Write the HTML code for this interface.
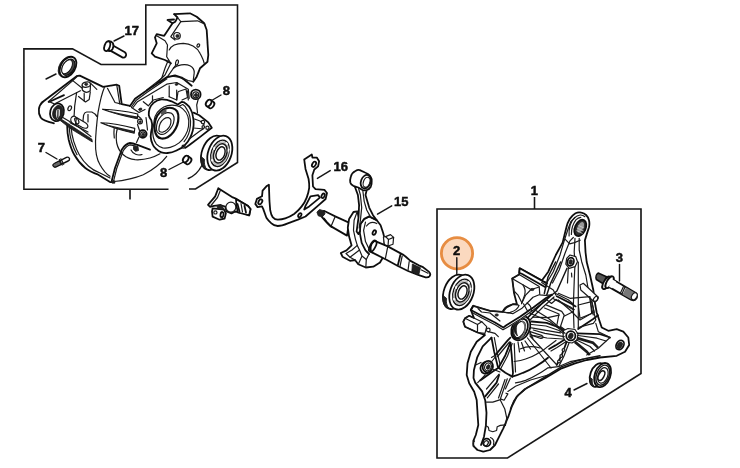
<!DOCTYPE html>
<html><head><meta charset="utf-8"><title>Parts diagram</title>
<style>
html,body{margin:0;padding:0;background:#fff;}
svg{display:block;}
text{font-family:"Liberation Sans",sans-serif;font-weight:bold;font-size:13px;fill:#0a0a0a;stroke:#0a0a0a;stroke-width:0.45;}
.l{fill:none;stroke:#1a1a1a;stroke-width:1.2;stroke-linecap:round;stroke-linejoin:round;}
.t{fill:none;stroke:#111;stroke-width:1.8;stroke-linecap:round;stroke-linejoin:round;}
.h{fill:none;stroke:#444;stroke-width:0.7;stroke-linecap:round;stroke-linejoin:round;}
.m{fill:none;stroke:#141414;stroke-width:1.45;stroke-linecap:round;stroke-linejoin:round;}
.w{fill:#fff;stroke:#1a1a1a;stroke-width:1.2;stroke-linejoin:round;}
.wt{fill:#fff;stroke:#111;stroke-width:1.8;stroke-linejoin:round;}
.d{fill:#222;stroke:#1a1a1a;stroke-width:0.8;stroke-linejoin:round;}
.g{fill:#999;stroke:none;}
.b{fill:none;stroke:#151515;stroke-width:1.6;}
.ld{fill:none;stroke:#151515;stroke-width:1.4;stroke-linecap:round;}
</style></head><body>
<svg width="740" height="468" viewBox="0 0 740 468">
<defs><filter id="bl" x="0" y="0" width="740" height="468" filterUnits="userSpaceOnUse"><feGaussianBlur stdDeviation="0.45"/></filter></defs>
<rect width="740" height="468" fill="#fff"/>
<g filter="url(#bl)">
<!-- BOXES -->
<g class="b" id="boxes">
<path d="M168.5,189.2 H23.9 V48.9 H72.5 L101,64.5 H145.8 V5 H237.5 V162.5 L195.5,189 H189"/>
<path d="M130,189 V199.5"/>
<path d="M437,209 H641 V373.5 L507.5,458 H437 Z"/>
<path d="M534.5,197 V209"/>
</g>
<!-- HIGHLIGHT -->
<circle cx="457" cy="253.3" r="15.6" fill="#fbd9bf" stroke="#e78d42" stroke-width="2.8"/>
<!-- LEADERS -->
<g class="ld" id="leaders">
<path d="M124,36 L114,41"/>
<path d="M46,79 L56,74"/>
<path d="M46,152.5 L57,159"/>
<path d="M221,95 L212.5,100"/>
<path d="M169,169.5 L182.5,162.5"/>
<path d="M188.3,178.5 Q197,175 201.7,165.8"/>
<path d="M330.2,170.6 L317.4,178.4"/>
<path d="M391.7,205.8 L377.5,214.2"/>
<path d="M456.8,257.8 V274.5"/>
<path d="M619.5,264.5 V281"/>
<path d="M574,390 L587,383.5"/>
</g>
<!-- LABELS -->
<g id="labels">
<text x="124.5" y="35">17</text>
<text x="222.8" y="95">8</text>
<text x="160" y="176.5">8</text>
<text x="37.8" y="151.5">7</text>
<text x="333.5" y="171">16</text>
<text x="394" y="206">15</text>
<text x="530.7" y="194.5">1</text>
<text x="453" y="255.3">2</text>
<text x="615.8" y="262">3</text>
<text x="564.6" y="397">4</text>
</g>
<!-- LEFT CRANKCASE -->
<g id="leftcase">
<!-- top shroud -->
<path class="t" d="M174.2,14.2 L190,13.3 L196.7,16.7 L204.2,23.3 L206.7,30 L208.3,55 L207.5,61.7 L200,68.3 L196.7,76.7 L193.3,81.7"/>
<path class="t" d="M174.2,14.2 L177.5,17.5 L175.3,21.7 L172.5,23.3 L167.5,20 L174,19.5"/>
<path class="t" d="M172.5,23.3 L164.2,35.8 L156.7,34.2 L155,37.5 L156.7,43.3 L151.7,53.3 L155,56.7 L165,60 L170.8,63.3"/>
<path class="l" d="M177.5,17.5 L180.8,21.7 L197.5,20.8 L205,24.2"/>
<path class="l" d="M180.8,21.7 L170.8,36.7 L175,40"/>
<circle class="w" cx="177" cy="35.8" r="3.3"/>
<circle class="d" cx="177.5" cy="36" r="1.6"/>
<path class="l" d="M156.7,35.8 L165,40.8 L167.5,45 L166.7,56.7 L170.8,63.3"/>
<path class="l" d="M169.2,50 C171,46 176,43.3 183.3,43.3 C190,43.5 197,47 200,53.3 C202,57 203.5,60 204.2,63.3"/>
<ellipse class="l" cx="198.3" cy="45.5" rx="1.2" ry="1.8" transform="rotate(30 198.3 45.5)"/>
<ellipse class="l" cx="177" cy="62.5" rx="1.3" ry="2.6" transform="rotate(15 177 62.5)"/>
<path class="l" d="M170.8,63.3 L165,75 L156.7,83"/>
<path class="l" d="M175.8,65 L167.5,76.7 L160,83"/>
<path class="l" d="M168.3,60 L165,68.3 L161.7,78.3 L146.7,90"/>
<path class="l" d="M173.3,68.3 C177,65 185,63.5 190,65.8 C193,67.5 194.5,70 194.2,73 L193.3,80"/>
<path class="l" d="M165,78.3 C170,75.5 178,76 183,79"/>
<!-- flange outer edge -->
<path class="t" d="M130,106 L135,98.8 L146.7,90.5 L166.7,77.2 L175,75.3 L181.7,77.5 L191.7,85.8"/>
<path class="l" d="M131.5,107 L136.3,100.2 L147.5,92 L167,78.8"/>
<path class="l" d="M181.7,77.5 L188,80.5 L193.3,81.7"/>
<!-- flange inner -->
<path class="l" d="M133,107.5 L137.5,101.7 L150,94.2 L166.7,84.2 L176.7,82.5 L188.3,89.2 L189.2,98.3"/>
<ellipse class="d" cx="176.7" cy="84.2" rx="1.6" ry="1" transform="rotate(-20 176.7 84.2)"/>
<ellipse class="d" cx="140.3" cy="109.3" rx="1.7" ry="1.1" transform="rotate(-20 140.3 109.3)"/>
<path class="l" d="M131.5,107.5 L139,112.5 L145,109.5"/>
<path class="l" d="M143.3,101.7 L148.3,105.8 L153.3,100 L163.3,97.5"/>
<path class="l" d="M152.5,95.8 L152.5,102"/>
<path class="l" d="M169.2,85.8 L169.2,96.7 M176.7,90 L176.7,100 M187.5,90.8 L188.3,100"/>
<path class="l" d="M169.2,96.7 L176.7,100 L178,92"/>
<path class="l" d="M178.5,91.5 L186,89 L187.5,97.5 L182,100"/>
<!-- bolt boss right -->
<circle class="wt" cx="195.8" cy="94.4" r="4.8"/>
<circle class="l" cx="195.8" cy="94.8" r="3"/>
<circle class="d" cx="196" cy="95" r="1.6"/>
<!-- main ring -->
<path class="wt" d="M149.5,108.9 C150.5,106.5 152,104 153.9,102.6 C156,100.8 158.5,99.8 161.4,99.4 C165,99.3 168.5,100 171.5,101.3 L177.8,104.5 L181.6,101.9 C183.3,101.8 184.8,102.5 186,103.8 C188,105.3 189.5,107 190.4,108.9 C191.8,111.3 192.6,113.8 192.9,116.4 C193.6,119.3 193.8,122.2 193.6,125.2 C193.4,128.3 192.8,131.3 191.7,134.1 C190.8,136.8 189.5,139.3 187.9,141.6 C186.2,144 184,146.2 181.6,147.9 L176.5,150.5 C173.5,152 170.5,152.8 167.7,153 C165.5,153.2 163.4,153 161.4,152.3 C159.5,151.6 157.8,150.6 156.4,149.2 C154.6,147.8 153.3,146.2 152.6,144.2 C151.5,141.8 150.8,139.3 150.7,136.6 C150.8,133.7 151.3,130.7 152,127.8 C152.3,125.2 152.2,122.7 151.3,120.2 C150,118.5 149,117 148.8,115.2 C148.6,113 148.9,111 149.5,108.9 Z"/>
<path class="l" d="M153.9,124 C153.9,121.3 154.3,118.8 155.1,116.4 C156.2,113.6 157.9,111.3 160.2,109.5 C162.4,107.6 164.9,106.3 167.7,105.7 C170.7,105 173.6,105 176.5,105.7 C179,106.2 181.1,107.3 182.8,108.9 C185.2,110.9 186.9,113.4 187.9,116.4 C189,119.7 189.2,123.1 188.5,126.5 C188,129.7 187,132.6 185.4,135.3 C183.8,138.3 181.7,140.8 179.1,142.9 C176.5,145 173.5,146.5 170.2,147.3 C167.7,148 165.2,148.2 162.7,147.9 C160.2,147.3 158.1,146.1 156.4,144.2 C154.7,142 153.7,139.5 153.2,136.6 C152.8,134.1 152.6,131.6 152.6,129 Z"/>
<path class="l" d="M179.1,106.3 L182.8,104.5 C184.5,105.5 185.8,107 186.6,108.9 C188.2,111.2 189.2,113.7 189.8,116.4 C190.5,119.3 190.7,122.2 190.4,125.2 C190.2,128.3 189.6,131.3 188.5,134.1 C187.5,136.9 186,139.4 184.1,141.6"/>
<path d="M154.5,126.5 C154.5,123.8 155,121.3 155.8,118.9 C156.8,116.2 158.2,113.9 160.2,112 C162,110.2 164.1,108.9 166.5,108.2 C168.6,107.6 170.7,107.6 172.8,108.2 C174.8,108.8 176.2,109.9 177.2,111.4 C178.2,113.3 178.6,115.4 178.4,117.7 C178.4,120.3 178,122.8 177.2,125.2 C176.3,127.8 175,130.1 173.4,132.2 C171.8,134.3 169.9,136 167.7,137.2 C165.7,138.3 163.6,138.7 161.4,138.5 C159.6,138.2 158.1,137.4 157,136 C155.9,134.5 155.2,132.8 154.9,130.9 C154.6,129.4 154.5,128 154.5,126.5 Z" fill="#fff" stroke="#111" stroke-width="2.2"/>
<path class="l" d="M156.4,127.8 C156.5,125.6 156.9,123.5 157.6,121.5 C158.5,119.3 159.8,117.4 161.4,115.8 C163,114.2 164.9,113.1 167.1,112.6 C168.7,112.4 170.2,112.6 171.5,113.3 C172.8,114.2 173.6,115.5 174,117.1 C174.3,119.2 174.1,121.3 173.4,123.4 C172.7,125.5 171.6,127.3 170.2,129 C168.8,130.8 167.1,132.3 165.2,133.4 C163.6,134.3 161.9,134.6 160.2,134.1 C158.8,133.6 157.7,132.7 157,131.5 C156.5,130.3 156.3,129.1 156.4,127.8 Z"/>
<path class="l" d="M158.9,129 C159,126.8 159.5,124.9 160.2,123.4 C161.2,121.5 162.5,120 163.9,118.9 C165.4,117.9 166.9,117.6 168.4,117.7 C169.8,118 170.6,118.9 170.9,120.2 C171.1,121.9 170.8,123.6 170.2,125.2 C169.4,127 168.4,128.5 167.1,129.7 C165.8,131 164.3,131.9 162.7,132.2 C161.3,132.4 160.2,131.9 159.5,131.5 C159,130.8 158.8,130 158.9,129 Z"/>
<path d="M160.6,112.6 C162.2,110.8 164.2,109.6 166.3,109 L166.6,112.6 C165,113.2 163.4,114.6 162,116.2 Z" fill="#555"/>
<circle class="l" cx="183.5" cy="146.7" r="1.5"/>
<!-- right of ring -->
<path class="l" d="M198.3,98.8 L196.7,105 L197.5,113"/>
<path class="t" d="M193.6,112.6 L199.2,115.2 L208,122.1 L211.8,127.8 L200.5,136.6 L190.4,144.2 L185.4,147.9"/>
<path class="l" d="M189.2,139.1 L199.2,131.5 L203,129"/>
<path class="l" d="M194.5,119 L200,121 L204,124.5 M193.5,128 L199,128.5 L203,129"/>
<circle class="w" cx="203" cy="122.1" r="1.7"/>
<circle class="w" cx="207.4" cy="127.8" r="1.6"/>
<circle class="l" cx="203.3" cy="127" r="1.3"/>
<!-- arm (left) -->
<path class="t" d="M42.6,102 L77.3,75.8 L79.8,75.6 L103.1,86.9 L116.7,84.7 L119.2,85.8 L121.7,104.2 L130,105.8"/>
<path class="l" d="M48.3,101.8 L72.8,80.6 L82.3,88.2"/>
<path class="l" d="M72.8,80.6 L77.3,76.2"/>
<path class="l" d="M55.8,103.3 L80.4,90.7"/>
<path class="t" d="M48.9,102 L64,95.1"/>
<path class="t" d="M42.6,102 C38.5,105.5 37.5,112.5 40.7,117.6 C43,121 48.9,122.2 53.9,123.3"/>
<path class="l" d="M48.9,101.4 L57.1,105.2"/>
<ellipse class="wt" cx="57" cy="112.3" rx="6.8" ry="9" transform="rotate(15 57 112.3)"/>
<ellipse class="d" cx="57.8" cy="112.6" rx="5" ry="7.4" transform="rotate(15 57.8 112.6)"/>
<path d="M56.3,110.5 C57.3,108.8 59.3,108.6 60,110 L59.8,115.5 L57.6,118.8 C55.8,117.5 55.5,113 56.3,110.5 Z" fill="#ddd"/>
<path class="l" d="M58,109.8 L57.8,117.5"/>
<!-- boss on arm -->
<path class="w" d="M82.3,85.2 L82.3,90 Q86,94.3 90.2,90.7 L90.5,84.8 Z"/>
<ellipse class="w" cx="86.3" cy="84.6" rx="4.2" ry="2.6" transform="rotate(-10 86.3 84.6)"/>
<ellipse class="d" cx="86.2" cy="84.3" rx="1.6" ry="1.1"/>
<path class="l" d="M90.5,83.1 L96.8,89.4"/>
<path class="l" d="M76.6,92.6 L74.7,105.8 L74.1,116"/>
<path class="l" d="M78.5,96.5 L85.5,102 L89.2,99.5 L90.3,91.9"/>
<path class="l" d="M84.2,93.5 L84.2,101"/>
<ellipse class="l" cx="69.7" cy="108.3" rx="1.6" ry="2.5" transform="rotate(25 69.7 108.3)"/>
<!-- fin -->
<path class="l" d="M107.5,88.3 L115,102.5 L121.7,104.2"/>
<path class="l" d="M116.7,84.7 L119.8,104"/>
<!-- big curve -->
<path class="l" d="M104.4,87.5 C101.5,94 99.5,104 98,112.6 C97,121 95.8,132 95.5,141.6 C95.3,151 97,160 100,164.7 C103,170 106,174 110,176.3"/>
<!-- slats right -->
<path d="M102.5,109.3 C112,109.6 126,111.3 137.8,114 L137.3,118.8 C126,116.5 112,112.8 102.5,109.3 Z" fill="#fff" stroke="#111" stroke-width="1.1" stroke-linejoin="round"/>
<path d="M102.5,109.3 C112,112.8 126,116.5 137.3,118.8 L137.6,116.6 C126,114.6 113,112 102.5,109.3 Z" fill="#222"/>
<path d="M100.8,122.8 C110,123.2 123,125.2 134.8,128.4 L134.2,133.3 C124,131 110,126.8 100.8,122.8 Z" fill="#fff" stroke="#111" stroke-width="1.1" stroke-linejoin="round"/>
<path d="M100.8,122.8 C110,126.8 124,131 134.2,133.3 L134.5,131 C123,128.6 111,125.8 100.8,122.8 Z" fill="#222"/>
<!-- arch + boss lower -->
<path class="l" d="M82.9,121.4 L83.6,115.1 C84.3,113 85.5,112.2 86.7,112 L91.8,112 C94,113 95.8,114.5 96.8,116.4"/>
<path class="l" d="M88,114.5 L88,122"/>
<ellipse class="w" cx="74.3" cy="120.3" rx="3.4" ry="4.2" transform="rotate(-20 74.3 120.3)"/>
<path class="w" d="M76.5,117.5 L85,122.5 C87.5,124 88.5,126 87.5,127.5 C86,128.8 84,128.3 82,127.3 L75.5,123.8 Z"/>
<ellipse class="l" cx="76.8" cy="120.8" rx="1.7" ry="3.2" transform="rotate(-25 76.8 120.8)"/>
<!-- long blade from cylinder -->
<path class="d" d="M59.5,118 L70.3,125 L92,139.3 L92.3,142 L70,128.3 L59,119.5 Z"/>
<path class="l" d="M62,117 L78,126.5 L91,136.5"/>
<path class="l" d="M70,122.8 L88,132"/>
<!-- housing lower left curves -->
<path class="t" d="M67.2,126.5 C67.2,131 67.7,135 68.7,139.7 C70,145 71.6,150 74.3,154.7 C77.3,160 81,164.5 85.3,168 C89,171 93.5,173 98.3,174.7 L110,182 L114.2,182.2"/>
<path class="l" d="M71.2,128 C71.5,133 72.4,137 73.7,141.3 C75.2,146 76.9,150.5 79.3,154.7 C81.8,159 85,163 88.6,166.3 C92,169.5 96,171.5 100,173 L110,178"/>
<path class="l" d="M69.2,127.2 C69.5,132.5 70.2,137 71.5,141.5 C73,146.5 74.6,150.5 77,154.7"/>
<path class="t" d="M111.7,181 L115,168 L121.7,149.7 C124,146 127,143.5 130,143 C132.5,143 134.5,143.8 136.7,144.7 L150,149.7"/>
<path class="l" d="M113.5,181.3 L116.7,168.5 L123.2,150.8 C125.3,147.5 127.5,145.3 130.2,144.8 L136,146.2"/>
<path class="l" d="M114.2,181.5 C120,181 125,180 130,178.8 C135,177.7 139.5,176.3 143.3,174.7 C148,172.5 152.5,169.7 156.7,166.3 C160.5,163.3 164,160 166.7,156.3"/>
<rect class="d" x="112.2" y="180.8" width="2.6" height="2.4"/>
<!-- circle arcs at lower middle -->
<path class="l" d="M117.5,128 C116,133 116,138.5 116.7,143 C117.8,148 120,152 123.3,154.7 C126.5,157.5 130.5,159.3 135,159.7 C140,160 145,159.5 150,158 C153.5,157 157,155.5 160,153.8"/>
<path class="l" d="M114.2,128.3 C113.8,131.5 113.8,135 114.3,138"/>
<path class="d" d="M133.5,146.5 L138,146.5 L138.5,150.5 L135.5,151.3 L133.5,149.5 Z"/>
<path class="l" d="M131,150 C133,154 137.5,156 142,154.5"/>
<!-- small bosses near slats right end -->
<circle class="w" cx="140" cy="121.5" r="2.4"/>
<circle class="d" cx="140.2" cy="121.7" r="1"/>
<circle class="wt" cx="142.8" cy="134" r="3.8"/>
<circle class="l" cx="143" cy="134.2" r="2.3"/>
<circle class="d" cx="143.2" cy="134.4" r="1.2"/>
<path class="l" d="M138,116 L141,118.5 M137.5,124.5 L139.5,130.5 M146,117.5 L147.5,130"/>
<path class="l" d="M139,137 L136.5,142.5"/>
</g>
<!-- SMALL PARTS LEFT BOX -->
<g id="small-left">
<!-- screw 17 -->
<path class="wt" d="M112.1,45 L124.9,52.2 C126.3,53.3 126.5,55.3 125.5,56.6 C124.6,57.7 123.4,57.9 122.4,57.4 L109.5,50.1 Z"/>
<path class="wt" d="M108.3,41.2 C110,41 111.8,41.8 112.8,43 C113.7,44.8 113.5,47.3 112.5,49.2 C111.6,50.5 110.2,51.2 108.8,51 Z"/>
<ellipse class="wt" cx="107.2" cy="46.2" rx="2.7" ry="5" transform="rotate(18 107.2 46.2)"/>
<!-- seal -->
<g transform="translate(68,67) rotate(31)">
<ellipse class="d" cx="-1.1" cy="0.5" rx="7.4" ry="11.3"/>
<ellipse class="wt" cx="0" cy="0" rx="7.2" ry="11.1"/>
<ellipse cx="0.5" cy="0" rx="5.6" ry="8.8" fill="#444" stroke="#111" stroke-width="1.3"/>
<ellipse cx="-0.9" cy="0.3" rx="4.3" ry="7.7" fill="#fff" stroke="#111" stroke-width="1"/>
</g>
<!-- pin 7 -->
<path d="M54.3,163.6 L66.5,157.4 C67.8,156.8 69.2,157.4 69.5,158.6 C69.7,159.7 69.1,160.6 68.1,161 L56,166.8 C54.7,167.3 53.4,166.8 53.1,165.6 C52.9,164.8 53.4,164 54.3,163.6 Z" fill="#fff" stroke="#111" stroke-width="1.4" stroke-linejoin="round"/>
<path d="M54.3,163.6 L59.3,161 L61.2,164.3 L56,166.8 C54.7,167.3 53.4,166.8 53.1,165.6 C52.9,164.8 53.4,164 54.3,163.6 Z" fill="#666" stroke="#111" stroke-width="1"/>
<path class="l" d="M59.4,159.6 L62.2,165 M60.9,158.9 L63.7,164.3"/>
<!-- cylinder 8 upper -->
<g transform="translate(209.8,103.8) rotate(35)">
<path class="wt" d="M-1.4,-3.6 L2,-3.6 A2.4,3.6 0 0 1 2,3.6 L-1.4,3.6 Z"/>
<ellipse class="wt" cx="-1.4" cy="0" rx="2.4" ry="3.6"/>
</g>
<!-- cylinder 8 lower -->
<g transform="translate(186.9,159.8) rotate(35)">
<path class="wt" d="M-1.4,-3.6 L2,-3.6 A2.4,3.6 0 0 1 2,3.6 L-1.4,3.6 Z"/>
<ellipse class="wt" cx="-1.4" cy="0" rx="2.4" ry="3.6"/>
</g>
<!-- bearing left -->
<g transform="translate(219.8,153.2) rotate(20)">
<ellipse class="wt" cx="-6.2" cy="1.9" rx="11.4" ry="17.9"/>
<path class="d" d="M-16.6,9.5 C-15.8,13.5 -13.8,17 -10.8,19.2 L-6.5,19.8 C-9.6,17.8 -11.5,14.8 -12.3,11 Z"/>
<ellipse class="wt" cx="0" cy="0" rx="11.6" ry="18.1"/>
<ellipse class="m" cx="0.2" cy="0" rx="8.6" ry="13.6"/>
<ellipse cx="0.4" cy="0" rx="7.5" ry="11.8" fill="none" stroke="#bbb" stroke-width="1.6"/>
<ellipse class="m" cx="0.5" cy="0" rx="6.3" ry="10"/>
<ellipse class="m" cx="0.8" cy="0" rx="4.2" ry="6.9"/>
<path d="M-7.2,-4 L-6.8,-1 M6.9,-7.5 L7.5,-4.5 M-5.4,8.3 L-4.4,10.3 M2.2,-12.2 L4.3,-10.9" stroke="#fff" stroke-width="1.7" fill="none"/>
</g>
</g>
<!-- MIDDLE PARTS -->
<g id="clip">
<path class="wt" d="M218.3,188.2 L232.8,197.4 L235.3,198.3 L247.9,205.9 L250.5,209 L249.2,215.3 L244.1,213.4 L235.3,211.5 L231.5,213.4 L226.5,211.5 L225.2,206.5 L220.2,205.2 L213.9,205.9 L210.1,206.8 L208,204.9 L215.2,196.4 Z"/>
<path class="l" d="M220.5,190 L217.5,197.5 L211,205.5"/>
<circle class="w" cx="230.9" cy="207.1" r="5"/>
<path class="wt" d="M236,199 L247.9,205.9 L250.5,209 L249.2,215.3 L238,212.5 C236.5,208 236,203 236,199 Z"/>
<path class="t" d="M237.5,204 L239.5,211.5 M244.5,206 L246,212.5"/>
<path class="l" d="M241,203.5 L242.5,212"/>
<path class="wt" d="M212.6,208.4 L224,209.7 L225.9,213.4 L224.6,218.5 L219.6,219.7 L212.6,216.6 L212,211.5 Z"/>
<circle class="l" cx="215.4" cy="212.4" r="1.6"/>
<ellipse class="t" cx="222" cy="214.6" rx="1.5" ry="2.6" transform="rotate(10 222 214.6)"/>
<path class="d" d="M217,205.5 L221,204.5 L224,209 L217.5,208.5 Z"/>
</g>
<g id="gasket">
<path class="wt" d="M304.2,159.5 L311.8,154.4 L312.4,157.6 L316.8,157.6 L319.1,161.3 L318.1,166.4 L314.3,169.5 L312.4,175.2 L313,186.5 L315.5,189.1 L324.4,189.9 L327,193 L325.6,199 L318.1,205.7 L305.5,216.5 L297.9,219.7 L287.8,223.4 C284,225 280,226 277.7,226 C275,225.8 273,225 271.4,223.4 C269.2,221.5 267.5,219.5 266.4,217.8 L263.2,208.9 L262,206.4 L257.6,207.1 L255.3,203.9 L256.9,198.9 L262,196.3 L262.6,190.7 L266.4,186.3 L268.9,184.7 L269.4,200 L270.2,210.2 C270.7,213 271.5,215.5 272.7,217.1 C274,218.7 275.5,219.6 277.7,219.7 C280.5,219.6 283,219.2 285.3,218.4 C288.5,217.3 291.5,215.8 294.1,214 C297,211.8 299.5,209.3 301.7,206.4 C303.8,203.7 305.5,200.8 306.7,197.6 C308,194 308.9,190.5 309.2,187.8 C309.3,185 309.1,182 308.6,179 L305.5,168.9 Z"/>
<ellipse class="t" cx="314" cy="164.3" rx="1.7" ry="2.9" transform="rotate(30 314 164.3)"/>
<ellipse class="t" cx="323.1" cy="195.8" rx="1.4" ry="2.4" transform="rotate(25 323.1 195.8)"/>
<ellipse class="t" cx="299.8" cy="215.2" rx="1.4" ry="2.2" transform="rotate(30 299.8 215.2)"/>
<ellipse class="t" cx="260.3" cy="201.8" rx="1.7" ry="2.7" transform="rotate(30 260.3 201.8)"/>
<path class="wt" d="M310.5,196.3 L318.1,195.1 L319.9,197.6 L309.2,206.4 L304.2,209.6 L305.5,205.8 Z"/>
</g>
<g id="crank">
<!-- left shaft -->
<path class="wt" d="M323.9,210.8 L335.2,216.4 L349,222.6 L347,235.6 L330.2,225.9 L326.4,222.1 L322,217.1 Z"/>
<path class="d" d="M316.9,212 L319.5,209.5 L323.9,210.8 L325.1,213.9 L322,217.1 L318.2,215.8 Z"/>
<path class="l" d="M335.2,216.4 L331,226.5"/>
<path class="t" d="M324,218.5 L327.5,223 L331.5,226.8"/>
<!-- webs -->
<path class="wt" d="M353.5,212 L349.1,218.9 L347.8,227.8 L349.1,236.6 L351.6,245.4 L346.5,250.4 L340.8,253 L342.5,256.7 L350,260.8 L355,260 L358.3,264.2 L365.8,267.5 L373.3,266.7 L380,262.5 L383.3,256.7 L384.4,246 L384.4,237.8 L383.1,232.8 L380.6,225.2 L376.8,220.2 L369.2,216.4 L364.2,218.9 L360.4,224 L357.3,211.4 Z"/>
<path class="l" d="M357.3,211.4 L354.1,220.2 L353.5,230.3 L355.4,239.1 L357.3,245.4 L352,250 L346,253.5 L350,257.2 L355,260"/>
<path class="l" d="M357.3,245.4 L359.5,250 L350,257.2"/>
<path class="t" d="M360.4,224 L359.8,232.8 L361.7,242.9 L365.5,250.4 L369,254"/>
<path class="l" d="M365.5,222.1 L363.6,230.3 L365.5,241.6 L369.2,249.2 L372.5,252.5"/>
<path class="l" d="M359.5,250 L362,256 L358.3,264.2 M362,256 L366.3,259.5 L365.8,267.5"/>
<path class="l" d="M369,254 L366.3,259.5"/>
<path class="l" d="M366.5,226 C369,222.5 373,221.5 376.8,223.5"/>
<ellipse class="t" cx="374.3" cy="232.6" rx="1.5" ry="2.4" transform="rotate(25 374.3 232.6)"/>
<!-- key block -->
<path class="w" d="M383.4,237 L385.6,236.6 L390.5,234.6 L393.6,237.4 L393,244.2 L388,246 L384.4,245 Z"/>
<path class="l" d="M385.6,236.6 L388.5,239.5 L388,246 M388.5,239.5 L393.6,237.4"/>
<!-- right shaft -->
<path class="wt" d="M374.6,240.8 L387.8,246.4 L402.9,254.6 L405.5,256.5 L410.5,260.9 L418.7,265.3 L423.1,267.2 L428.8,271.6 C430.3,273 430.5,275 429.5,276.3 C428.7,277.2 427,277.5 425.6,277.3 L418.1,274.8 L408,271 L397.9,266 L386.5,259.7 L371.4,252.1 C369.8,248.5 370.6,243.5 374.6,240.8 Z"/>
<ellipse class="t" cx="372.8" cy="246.2" rx="2.6" ry="6.2" transform="rotate(28 372.8 246.2)"/>
<path class="l" d="M387.8,246.4 L385.3,258.9"/>
<path class="t" d="M400.4,254.8 L397.9,265"/>
<path class="l" d="M402.2,256 L400,266.3"/>
<path class="l" d="M409.2,261.5 L408,270.5"/>
<path class="d" d="M412.4,264 L420.5,267.8 L418.8,274.6 L411.8,272 Z"/>
<path class="l" d="M421.5,270 L428,273.3"/>
<!-- con rod -->
<path class="wt" d="M354.6,186 L357.9,195 L359.1,205.1 L358.5,217.7 L356.6,231.5 L358.5,234.1 L360,231 L360.4,224 L364.2,218.9 L369.2,216.4 L376.8,220.2 L373,215.2 L369.2,207.6 L365.5,195 L366.7,190 Z"/>
<path class="l" d="M358.6,188.5 L360.4,195 L361.7,207.6 L360.4,220.2 L359.2,228"/>
<path class="l" d="M362.8,190.5 L364.2,201.3 L366.7,210 L370.5,216.9"/>
<path class="wt" d="M350.8,176.7 C351.5,174 353.3,172 355.5,171 C357,170 358.5,169.8 359.8,170.1 L365,172.5 C367.5,173.3 369.3,174.5 370.3,176.2 C371.5,178 371.9,179.5 371.7,181.3 C371.8,183.5 371.5,185.3 370.8,186.7 C369.8,188.5 368.3,189.6 366.7,190 C365,190.5 363.5,190.5 362.5,190 L358.3,187.5 L353.3,185.8 C351.5,184.8 350.6,183.8 350.3,182.5 C350,180.5 350.2,178.5 350.8,176.7 Z"/>
<ellipse class="wt" cx="365.8" cy="181.7" rx="4.8" ry="7" transform="rotate(20 365.8 181.7)"/>
<ellipse class="l" cx="366.6" cy="182.3" rx="3.2" ry="5.2" transform="rotate(20 366.6 182.3)"/>
</g>
<!-- RIGHT CRANKCASE -->
<g id="rightcase">
<!-- outer silhouette (white fill) -->
<path class="wt" d="M540,283 L548.3,271.7 L555.8,255 L562.6,242.6 L566.1,228.5 C567,224.5 568.2,221.5 569.7,219.1 C571.3,216.5 573.3,214.5 575.5,213.2 C577.5,212.3 579.5,212.1 581.4,212.6 C583.2,213 584.8,213.8 586.1,215 C587.6,216.5 588.5,218.3 589,220.3 C589.5,222.6 589.5,225 589,227.3 L586.7,234.4 L584.9,240.2 L585.5,252 L586.7,262 L590,275 L593.3,290 L595,303.3 L596.7,312.5 L599.2,320 L601.7,327.5 L608.3,330.8 L616.7,329.2 L623.3,331.7 L628.3,337.5 L629.2,345 L625,351.7 L616.7,355.8 L600,357.5 L586.7,360 L575,363.3 L561.7,368.3 L545,378.3 L525,389 L516.7,396.7 L511.7,406.7 L508.3,416.7 L503.3,428.3 L498.3,438.3 L495,445 L490,450 L483.3,451.7 L477.5,450 L473.3,445.8 L473.3,440.8 L475.8,435 L478.3,425 L477.5,413.3 L476.7,400 L474.2,391.7 L469.2,383.3 L466.7,375 L467.5,363.3 L470.8,351.7 L476.7,341.7 L485,335 L477.5,332.5 L465,326.7 L463.3,321.7 L465,318.3 L469.2,315.8 L474,318 L470.8,310 L473.3,305.8 L490,310.8 L502.5,311.8 L506.5,307.4 L512.8,304.2 L517,304.5 L514,293 L512.2,278.5 L519.1,274.5 L519.7,268.3 L546.8,283.4 Z"/>
<!-- top arm inner lines -->
<path class="l" d="M546.7,283 L553.3,271.7 L560,255 L564.2,240.8 L568.3,228.3 L570.8,221.7 L575,217.5"/>
<path class="l" d="M552.5,283 L559.2,270 L565,253.3 L570,240.8 L573.3,237.5"/>
<path class="l" d="M579.2,238.3 L579.2,250 L581.7,261.7 L585.8,275 L589.2,295 L591.7,308.3 L593.3,315"/>
<path class="l" d="M575,238.3 L574.2,251.7 L575,263.3 L574.2,281.7 L573.3,306.7 L574,328"/>
<path class="l" d="M578.3,262 L578.3,328"/>
<!-- eye -->
<path class="l" d="M569.1,236 C568.8,232 569.2,228.5 570.2,225 C571.2,222 572.5,219.7 574.4,217.9 C576,216.3 578,215.3 580.2,215 C582,214.9 583.6,215.5 584.9,216.7"/>
<path class="l" d="M571.4,234.4 C571.4,231 571.8,228.5 572.6,226.1 C573.5,223.6 574.7,221.5 576.1,219.7 C577.5,218.3 579,217.5 580.8,217.3"/>
<ellipse cx="580.3" cy="227.9" rx="5.3" ry="8.6" transform="rotate(25 580.3 227.9)" fill="#333" stroke="#111" stroke-width="1.8"/>
<ellipse cx="580.6" cy="227.3" rx="2.8" ry="5.6" transform="rotate(25 580.6 227.3)" fill="#999"/>
<path d="M576.5,230.5 L582.5,233.5 M577,228 L583.5,231 M578.5,225.5 L584,228" stroke="#ddd" stroke-width="0.7" fill="none"/>
<path class="l" d="M565,239.1 L569.7,243.8 L574.4,242.6 L580.2,240.2"/>
<!-- boss on arm -->
<path class="w" d="M566.7,258.3 L570,255 L575.8,256.7 L577.5,261.7 L575,266.7 L569.2,268.3 L565.8,264.2 Z"/>
<ellipse class="t" cx="570.6" cy="261.8" rx="3.2" ry="4.2" transform="rotate(20 570.6 261.8)"/>
<ellipse class="d" cx="570.6" cy="262" rx="1.6" ry="2.4" transform="rotate(20 570.6 262)"/>
<path class="l" d="M568.3,268.3 L567.5,283 M571.5,273 L571.8,277"/>
<!-- lip bar on top of flange -->
<path class="wt" d="M519.7,268.3 L546.8,283.4 L545.5,287.2 L522.2,274 L519.3,272.7 Z"/>
<!-- plate -->
<path class="l" d="M512.2,278.5 L519.1,274.5 L539.2,286.6 L539.8,294.8 L545.5,295.4 L551.8,294.8"/>
<path class="l" d="M513.4,279.2 L531,289.5 L538.6,287.2"/>
<ellipse class="d" cx="532.3" cy="289.5" rx="1.7" ry="1.1"/>
<path class="l" d="M512.2,278.5 L514,291 L517.8,294.8 L521.6,302.3"/>
<path class="l" d="M522.8,284.7 C525,288 525.5,292 524.7,295 L521.6,303.6"/>
<path class="l" d="M531,289.5 L525.4,295.4 L521.6,303.6"/>
<path class="l" d="M502.7,311.8 C503.5,308.5 506,306.3 510,305 C513.5,303.8 517,304 519.1,305.4 C518,308.5 515,311 510.2,312.4 C507.5,313 505,312.7 502.7,311.8 Z"/>
<path class="l" d="M502.7,311.8 L512.8,313.7 L521.6,308.6 L533,297.3 L539.2,294.8"/>
<!-- plate front (lower-left prong) -->
<path class="t" d="M473.3,305.8 L470.8,310 L481.7,315.8 L495,322.5 L503.3,327.5 L506.7,325 L520,316.7 L533.3,307.5 L546,298 L551.8,294.8"/>
<path class="l" d="M472,312.5 L482,318 L495,324.8 L503,329.8 L507.5,327.2 L521,318.8 L534,309.6 L546,300.5"/>
<path class="l" d="M473.3,305.8 L490,310.8 L502.5,311.8"/>
<ellipse class="d" cx="496.7" cy="315" rx="1.7" ry="1.1"/>
<path class="l" d="M478,308.5 L481.5,312 L490,313 L500,321"/>
<!-- box lower-left -->
<path class="l" d="M465,318.3 L469.2,315.8 L481.7,321.7 L486.7,326.7 L485,333.3 L477.5,332.5 L465,326.7 L463.3,321.7 Z"/>
<path class="l" d="M465,318.3 L477.5,324.5 L481.7,321.7 M477.5,324.5 L477.5,332.5"/>
<circle class="w" cx="488.3" cy="330" r="1.8"/>
<path class="l" d="M488.3,331.7 L495,333.3 L498.3,336.7"/>
<!-- body left curve inner -->
<path class="t" d="M491.5,337.6 L482.7,346.4 L477.1,357.7 L473.9,370.3 L473.5,378 L475.2,382.6 L482.1,391.4 L485.2,400.2 L486.5,412.8 L485.9,425.4 L484,436.7 L481,445"/>
<path class="t" d="M491.5,337.6 L494.1,351.4 L497.8,366.5"/>
<path class="l" d="M494.3,337.5 L496.8,351 L500,364"/>
<!-- bearing seat -->
<clipPath id="seatclip"><path d="M500,332 L507.5,327.8 L521,319.4 L534,310.2 L542,304 L542,350 L500,350 Z"/></clipPath>
<g clip-path="url(#seatclip)">
<ellipse class="wt" cx="520.8" cy="328.3" rx="8.8" ry="12.6" transform="rotate(25 520.8 328.3)"/>
<ellipse class="t" cx="520.3" cy="328.8" rx="6.8" ry="10.6" transform="rotate(25 520.3 328.8)"/>
<ellipse class="l" cx="519.6" cy="329.4" rx="5" ry="8.6" transform="rotate(25 519.6 329.4)"/>
<path class="d" d="M514.5,322 C516.5,317.5 521,316 524.5,318 C521.5,318.5 518.5,320.5 517,324.5 C515.8,328 516,332 517.5,336 C514,333 513,327 514.5,322 Z"/>
<path d="M522,321 C524.5,322.5 525.5,326 525,330 C524.5,334 522.5,337.5 520,339" fill="none" stroke="#666" stroke-width="1.6"/>
</g>
<!-- ribs from node at (552,295) -->

<path class="m" d="M555.6,262 L548,277 L544.3,293.5"/>
<path class="m" d="M560.6,262 L550.6,283.4 L546.8,294.8"/>
<path class="m" d="M567,268.3 L556.9,291 L551.8,295"/>
<path class="t" d="M551.8,294.8 L540.5,304.8 L530.4,314.9 L527.9,317.5"/>
<path class="l" d="M554,297 L543,307 L533,317 L530,320"/>
<path class="l" d="M555.6,293.5 L568.2,299.8 L573,303.6"/>
<path class="l" d="M553,298.5 L566,305.5 L573,309.5"/>
<path class="l" d="M541.7,282.5 L553.3,290 L555.8,295"/>
<!-- extra ribs (dense web) -->

<path class="l" d="M546.6,305.1 L561.7,311.4 L564.2,315.2 L560.5,326.5"/>
<path class="l" d="M544.5,308 L559,314 L557,324.5"/>
<path class="l" d="M532.7,317.1 L547.8,317.7 L559.2,315.2"/>
<path class="t" d="M531.5,321.5 L546.6,322.8 L560.5,327.8 L566.8,332.8"/>
<path class="l" d="M531.5,324.5 L546,326 L559,330.5 L565.5,335"/>
<path class="l" d="M531.5,327.8 L560.5,332.8"/>
<path class="w" d="M530.2,331.6 L541.5,335.4 C543,336 543.3,337.2 542.8,337.8 C542,338.5 541,338.5 540,338.2 L530,334.6 Z"/>
<path class="t" d="M565.5,339.1 L555.4,345.4 L549.1,349"/>
<path class="l" d="M567,341 L557,347.5 L551,351"/>
<path class="t" d="M556.7,296.3 L571.8,303.9 L575.6,306.4"/>
<path class="l" d="M556,299.5 L570,306.8 L574,309.5"/>
<path class="t" d="M578.1,329.1 L593.2,319 L598,315.2"/>
<path class="l" d="M564.5,316 L572.5,312 L574,309.5 M560.5,326.5 L566,330.5"/>
<path class="l" d="M547,300 L551.5,303.5 L556,299.5"/>
<path class="l" d="M527,303 C529.5,304.5 531.5,307 531.5,310.5"/>
<path class="l" d="M523.5,303.8 L527.5,311 L531,309"/>
<!-- pin on right arm -->
<path class="w" d="M580,285 L583.3,283.3 L596.7,295.8 C597.8,297 598,299 597.5,300 C596.5,301.5 595,302 594.2,301.7 L580.8,290 Z"/>
<ellipse class="l" cx="595.8" cy="298.7" rx="1.8" ry="3" transform="rotate(40 595.8 298.7)"/>
<!-- panel -->
<path class="l" d="M558.3,293.3 L570,298.3 L590,296.7 L591.7,313.3 L580,320 L570,310 L558.3,300"/>
<path class="l" d="M578.3,305 L591.7,301.7 L594.2,312.5 L580,318.3 Z"/>
<!-- central boss right -->
<path class="w" d="M563.5,330.5 L568,328.5 L575,329.5 L578,334 L577,340 L572,343 L566,342 L563,337 Z"/>
<circle class="t" cx="570.8" cy="335.8" r="4.6"/>
<ellipse class="d" cx="570.8" cy="336" rx="2.2" ry="3" transform="rotate(20 570.8 336)"/>
<!-- ribs right of boss -->
<path class="t" d="M577.5,333.3 L600,334.2 L610,337.5"/>
<path d="M577.5,336.8 L593.6,341.6 L599,347 L597.2,348.6 L592.4,344 L577,339.4 Z" fill="#1a1a1a"/>
<path d="M575.4,340.6 L587.4,350.6 L590.8,354.4 L588.8,355.8 L585.6,352.6 L574,343 Z" fill="#1a1a1a"/>
<path class="l" d="M578,335.5 L597,338.2 L606,341 M576.5,340 L590,346.5 L594.5,351"/>
<!-- inner flange line right -->
<path class="l" d="M591.7,300 L594.2,313.3 L595.8,320 L593.3,323.3 L578.3,327.5"/>
<path class="l" d="M595.8,323.3 L598.3,331.7 L606.7,335.8 L610,337.5 L598.3,348.3 L586.7,355"/>
<!-- arm hole -->
<ellipse class="wt" cx="620" cy="345" rx="3.6" ry="5" transform="rotate(30 620 345)"/>
<ellipse class="d" cx="619.8" cy="345.3" rx="2.2" ry="3.6" transform="rotate(30 619.8 345.3)"/>
<!-- ribs left of boss -->
<path class="l" d="M565,333.3 L550,321.7 L530,313.3"/>
<path class="l" d="M564.2,336.7 L545,333.3 L533.3,330"/>
<path class="l" d="M563.5,331 L548,318 L535,310"/>
<path class="l" d="M563,339 L547,338 L531,335"/>
<path class="t" d="M566.7,341.7 L561.7,355 L556.7,365"/>
<path class="l" d="M569,343 L564,356 L559,366"/>
<circle class="w" cx="563.5" cy="350" r="1.4"/>
<circle class="w" cx="561.3" cy="356" r="1.4"/>
<circle class="w" cx="559" cy="361.5" r="1.4"/>
<path class="l" d="M529,330 L533,338.5 M530,336 L556,364"/>
<path class="l" d="M527.5,338 L551,368"/>
<!-- radiating ribs from seat down-left -->
<path class="t" d="M495.3,355.2 L507.9,340.1 L510.4,337.6"/>
<path class="l" d="M497.5,356.5 L509.5,342"/>
<path class="t" d="M498.5,367.8 L505.4,355.2 L510.4,342.6"/>
<path class="l" d="M500.8,368.5 L507.5,356 L512.2,343.5"/>
<path class="t" d="M510.4,342.6 L511.7,355.2 L513,372.8 L512.3,376.6"/>
<path class="l" d="M514.2,343.5 L515.5,372"/>
<path class="t" d="M498.5,367.8 L505.4,372.8 L512.3,376.6"/>
<path class="l" d="M475.2,365.3 L481,362.5 M491.5,357.5 L495.3,355.2"/>
<path class="l" d="M518,342 L519.5,352 M521.5,342.5 L524.5,351 M525,341 L530.5,349"/>
<path class="t" d="M480.2,380.4 L492.8,371.6 L498.5,367.8"/>
<path class="l" d="M486.5,389 L499.1,374.2"/>
<path class="l" d="M505.4,389 L510.4,378"/>
<!-- concentric arcs -->
<path class="l" d="M514.2,361.5 C518,361 522,360.3 525.6,359 C529.5,357.7 533.5,356 536.9,353.9 C541,351.8 545,349.3 548,346.4 L556,340.5"/>
<path class="t" d="M512.3,376.6 C516,375.7 519.5,374.4 523,372.8 C527.5,371 531.7,369 535.6,366.5 C540,363.9 544.2,361 548,357.7"/>
<path class="l" d="M515.5,382.9 C519,382.3 522.3,381.5 525.6,380.4 C530,378.7 534.2,376.6 538.2,374.1 C541.7,372 545,370 548,367.8 L558.3,366.7 L570,361.7 L583.3,359.2"/>
<path class="l" d="M548,375 L530.6,380 L515.5,386.3 L507.9,391.4"/>
<path class="l" d="M520,349 C526,346.5 533,346 540,348"/>
<!-- boss lower-left -->
<ellipse class="wt" cx="486" cy="367.8" rx="5.4" ry="6" transform="rotate(25 486 367.8)"/>
<ellipse class="wt" cx="487.8" cy="366.6" rx="5" ry="5.8" transform="rotate(25 487.8 366.6)"/>
<ellipse class="l" cx="488" cy="366.8" rx="3.3" ry="4" transform="rotate(25 488 366.8)"/>
<ellipse class="d" cx="488.2" cy="367" rx="1.7" ry="2.4" transform="rotate(25 488.2 367)"/>
<path class="l" d="M491,362.5 L496,356 M492.5,369 L500,372"/>
<!-- leg details -->
<path class="l" d="M477.7,382.6 L485.2,375"/>
<path class="t" d="M485.2,396.4 L496.6,382.6 L499.1,375"/>
<path class="l" d="M487.3,397.8 L498.5,384"/>
<path class="l" d="M507.3,378.8 L500.4,398.9 L504.1,400.2 L507.9,393.9 L506,393.2"/>
<path class="l" d="M505,379.5 L498.5,398"/>
<path class="l" d="M486.5,402.1 L492.8,402.1 L500.4,399.6"/>
<path class="l" d="M500.4,400.2 L504.8,409 L506.7,417.8 L505.4,425.4"/>
<path class="l" d="M485.6,425.4 L488.4,427.3 L489,430.5 L492.8,431.7 L496.6,430.5 L497.2,426.7 L500.4,425.4 L505.4,424.8"/>
<path class="m" d="M510.5,409 L513.8,401 L518.5,394.8 L526.5,388.2 L545.5,376.6 L561.8,366.6 L575.3,361.3 L587,358.3 L600,355.8"/>
<circle class="t" cx="486.7" cy="442.5" r="3.8"/>
<ellipse class="l" cx="486" cy="443.2" rx="2" ry="2.8" transform="rotate(35 486 443.2)"/>
<path class="l" d="M490.5,437.5 C493.5,438.5 494.5,441.5 493.5,444.5"/>
<path class="l" d="M474.5,441 C472.8,442.5 472.8,445 474.5,446.8"/>
</g>
<g id="small-right">
<!-- bearing 2 -->
<g transform="translate(461.8,292.2) rotate(20)">
<ellipse class="wt" cx="-6.2" cy="1.9" rx="11.4" ry="17.9"/>
<path class="d" d="M-16.6,9.5 C-15.8,13.5 -13.8,17 -10.8,19.2 L-6.5,19.8 C-9.6,17.8 -11.5,14.8 -12.3,11 Z"/>
<ellipse class="wt" cx="0" cy="0" rx="11.6" ry="18.1"/>
<ellipse class="m" cx="0.2" cy="0" rx="8.6" ry="13.6"/>
<ellipse cx="0.4" cy="0" rx="7.5" ry="11.8" fill="none" stroke="#bbb" stroke-width="1.6"/>
<ellipse class="m" cx="0.5" cy="0" rx="6.3" ry="10"/>
<ellipse class="m" cx="0.8" cy="0" rx="4.2" ry="6.9"/>
<path d="M-7.2,-4 L-6.8,-1 M6.9,-7.5 L7.5,-4.5 M-5.4,8.3 L-4.4,10.3 M2.2,-12.2 L4.3,-10.9" stroke="#fff" stroke-width="1.7" fill="none"/>
</g>
<!-- screw 3 -->
<path class="wt" d="M612.6,279.3 L635.5,292.8 C637.2,294 637.6,296.6 636.4,298.4 C635.2,300.2 633,300.6 631,299.6 L607.1,285.9 Z"/>
<path d="M598.1,273.1 L606.5,276.8 L603.2,283.8 L596.4,279.5 C595.4,277.2 596.2,274.3 598.1,273.1 Z" fill="#555" stroke="#111" stroke-width="1.6" stroke-linejoin="round"/>
<ellipse class="wt" cx="606.6" cy="282.8" rx="2.9" ry="7" transform="rotate(30 606.6 282.8)"/>
<ellipse class="wt" cx="609.6" cy="282.2" rx="2.8" ry="6.6" transform="rotate(30 609.6 282.2)"/>
<path d="M612,279.3 L616,281.5 L612.3,288.3 L609,286.8 Z" fill="#fff"/>
<path class="l" d="M623.6,286.2 L620.2,293.6 M625,287 L621.7,294.4"/>
<path d="M626,287.5 L634.8,292.8 L631.5,299.5 L622.5,294.6 Z" fill="#777"/>
<ellipse class="w" cx="634.3" cy="296.3" rx="2.5" ry="3.8" transform="rotate(30 634.3 296.3)"/>
<!-- seal 4 -->
<g transform="translate(602.6,375.1) rotate(20)">
<ellipse class="wt" cx="-4.2" cy="1.5" rx="7.8" ry="12.3"/>
<path class="d" d="M-11.4,6.5 C-10.7,9.5 -9.2,12 -7,13.5 L-4,13.8 C-6.4,12.2 -7.8,9.8 -8.4,7.2 Z"/>
<ellipse class="wt" cx="0" cy="0" rx="7.8" ry="12.5"/>
<ellipse class="m" cx="0.2" cy="0" rx="6.3" ry="10.4"/>
<ellipse class="l" cx="0.4" cy="0.2" rx="4.8" ry="8"/>
<ellipse class="m" cx="-1" cy="0.9" rx="2.7" ry="5.2" transform="rotate(8 -1 0.9)"/>
</g>
</g>
</g>
</svg>
</body></html>
